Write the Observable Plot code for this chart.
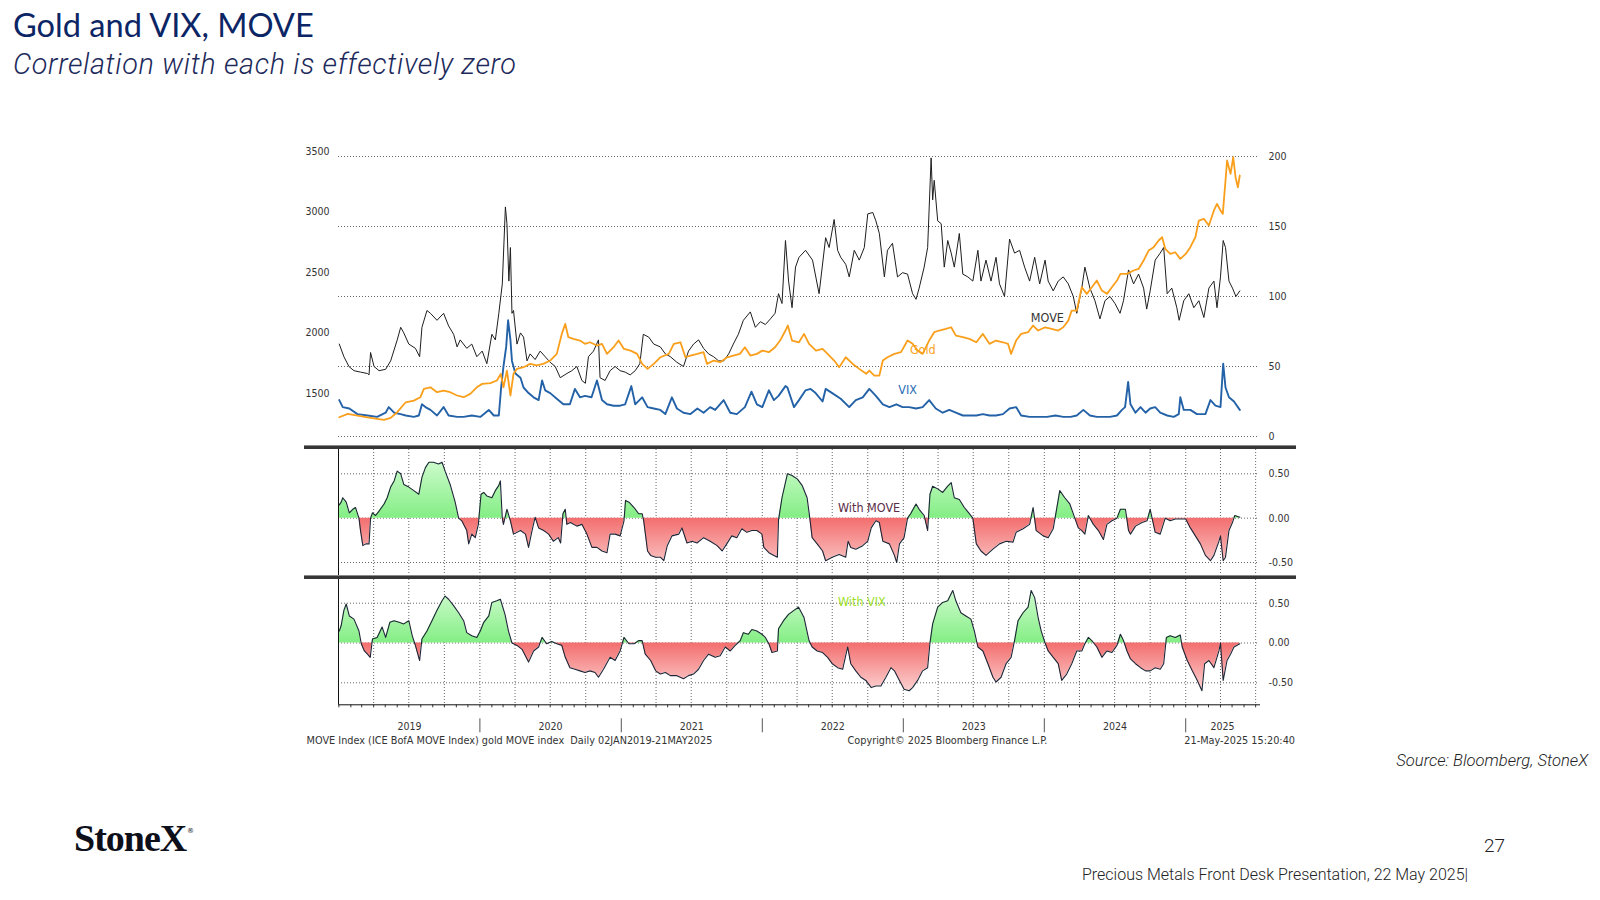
<!DOCTYPE html>
<html><head><meta charset="utf-8">
<script src="https://cdn.jsdelivr.net/npm/d3@7"></script>
<script src="https://cdn.jsdelivr.net/npm/@observablehq/plot@0.6"></script>
<style>
html,body{margin:0;padding:0;background:#fff;}
#page{position:relative;width:1600px;height:900px;overflow:hidden;background:#fff;}
#page > .plot{position:absolute;left:0;}
.sep{position:absolute;left:304px;width:992px;height:4px;background:#363636;border-top:1px solid #8a8a8a;box-sizing:border-box;}
#overlay{position:absolute;left:0;top:0;}
</style></head>
<body><div id="page">
<svg id="overlay" width="1600" height="900">
  <text x="13" y="37.3" font-family="Lato, 'Open Sans', sans-serif" font-size="32.6" fill="#0b2565">Gold and VIX, MOVE</text>
  <text x="13" y="74" font-family="Roboto, sans-serif" font-style="italic" font-weight="300" font-size="28.8" letter-spacing="0.65" fill="#1d2a5b">Correlation with each is effectively zero</text>
  <text x="306.6" y="744" font-family="'DejaVu Sans Condensed','DejaVu Sans',sans-serif" font-size="10.8" fill="#333" style="white-space:pre">MOVE Index (ICE BofA MOVE Index) gold MOVE index  Daily 02JAN2019-21MAY2025</text>
  <text x="847.5" y="744" font-family="'DejaVu Sans Condensed','DejaVu Sans',sans-serif" font-size="10.8" fill="#333">Copyright© 2025 Bloomberg Finance L.P.</text>
  <text x="1295" y="744" text-anchor="end" font-family="'DejaVu Sans Condensed','DejaVu Sans',sans-serif" font-size="10.8" fill="#333">21-May-2025 15:20:40</text>
  <text x="1588" y="765.5" text-anchor="end" font-family="Roboto, sans-serif" font-style="italic" font-weight="300" font-size="16.6" fill="#222">Source: Bloomberg, StoneX</text>
  <text x="74" y="850.7" font-family="'Liberation Serif', serif" font-weight="bold" font-size="38" fill="#0d0f1a" letter-spacing="-1">StoneX</text>
  <text x="187" y="833" font-family="'DejaVu Sans', sans-serif" font-size="7" fill="#0d0f1a">®</text>
  <text x="1484" y="852" font-family="Roboto, sans-serif" font-weight="300" font-size="19" fill="#222">27</text>
  <text x="1082" y="880" font-family="Roboto, sans-serif" font-weight="300" font-size="16" fill="#222">Precious Metals Front Desk Presentation, 22 May 2025|</text>
</svg>
<div class="sep" style="top:445px"></div>
<div class="sep" style="top:575px"></div>
</div>
<script>
// ---------------- DATA ----------------
const goldTicks = [1500, 2000, 2500, 3000, 3500];
const rightTicks = [0, 50, 100, 150, 200];
const corrTicks = [-0.5, 0, 0.5];

const move = [
["2019-01-02",66],["2019-01-14",57],["2019-01-27",50],["2019-02-09",47],["2019-02-26",46],["2019-03-16",45],["2019-03-20",44],["2019-03-24",60],["2019-04-02",50],["2019-04-15",47],["2019-05-02",48],["2019-05-15",54],["2019-06-01",69],["2019-06-10",78],["2019-06-18",74],["2019-07-01",66],["2019-07-18",63],["2019-07-29",57],["2019-08-04",78],["2019-08-17",90],["2019-08-26",88],["2019-09-12",83],["2019-09-29",88],["2019-10-12",79],["2019-10-25",73],["2019-11-03",64],["2019-11-11",69],["2019-11-28",63],["2019-12-11",66],["2019-12-24",57],
["2020-01-07",61],["2020-01-19",52],["2020-02-01",73],["2020-02-10",69],["2020-02-19",88],["2020-02-28",109],["2020-03-07",164],["2020-03-11",152],["2020-03-16",111],["2020-03-20",135],["2020-03-24",88],["2020-03-28",90],["2020-04-06",66],["2020-04-15",74],["2020-04-23",71],["2020-05-02",54],["2020-05-10",59],["2020-05-23",55],["2020-06-05",61],["2020-06-18",57],["2020-07-01",53],["2020-07-14",50],["2020-07-27",42],["2020-08-13",45],["2020-08-26",47],["2020-09-08",50],["2020-09-21",40],["2020-09-30",38],["2020-10-08",57],["2020-10-21",61],["2020-11-03",69],["2020-11-07",42],["2020-11-20",40],["2020-12-03",47],["2020-12-16",50],["2020-12-29",47],
["2021-01-11",46],["2021-01-24",44],["2021-02-06",47],["2021-02-18",52],["2021-02-27",73],["2021-03-13",71],["2021-03-26",66],["2021-04-12",64],["2021-04-25",59],["2021-05-08",57],["2021-05-25",53],["2021-06-11",50],["2021-06-24",61],["2021-07-07",66],["2021-07-20",69],["2021-08-02",63],["2021-08-15",59],["2021-08-28",57],["2021-09-10",54],["2021-09-23",54],["2021-10-06",59],["2021-10-18",66],["2021-10-31",73],["2021-11-13",83],["2021-12-01",89],["2021-12-14",78],["2021-12-27",82],
["2022-01-09",80],["2022-01-22",84],["2022-02-03",88],["2022-02-12",102],["2022-02-21",95],["2022-03-02",140],["2022-03-10",111],["2022-03-19",92],["2022-03-28",121],["2022-04-06",128],["2022-04-23",133],["2022-05-11",126],["2022-05-28",102],["2022-06-14",142],["2022-06-23",135],["2022-07-06",155],["2022-07-15",133],["2022-07-23",128],["2022-08-05",123],["2022-08-14",114],["2022-08-27",133],["2022-09-09",126],["2022-09-22",135],["2022-10-01",159],["2022-10-14",160],["2022-10-22",154],["2022-10-31",145],["2022-11-13",114],["2022-11-21",133],["2022-12-04",138],["2022-12-17",114],["2022-12-30",117],
["2023-01-12",116],["2023-01-25",102],["2023-02-03",98],["2023-02-11",106],["2023-02-24",121],["2023-03-05",135],["2023-03-14",199],["2023-03-18",169],["2023-03-22",183],["2023-03-31",154],["2023-04-09",152],["2023-04-17",121],["2023-04-26",140],["2023-05-05",131],["2023-05-13",121],["2023-05-26",145],["2023-06-04",116],["2023-06-17",114],["2023-06-30",111],["2023-07-13",133],["2023-07-21",111],["2023-08-03",126],["2023-08-16",111],["2023-08-29",128],["2023-09-07",109],["2023-09-20",100],["2023-10-03",141],["2023-10-16",131],["2023-10-29",133],["2023-11-11",121],["2023-11-24",111],["2023-12-07",128],["2023-12-20",109],
["2024-01-03",126],["2024-01-11",111],["2024-01-24",104],["2024-02-06",111],["2024-02-19",114],["2024-03-03",109],["2024-03-16",100],["2024-03-25",88],["2024-04-07",106],["2024-04-15",121],["2024-04-28",106],["2024-05-11",97],["2024-05-24",84],["2024-06-06",97],["2024-06-19",100],["2024-07-02",95],["2024-07-15",88],["2024-07-24",97],["2024-08-06",119],["2024-08-19",109],["2024-09-01",116],["2024-09-14",106],["2024-09-22",91],["2024-10-01",104],["2024-10-14",126],["2024-10-27",131],["2024-11-05",135],["2024-11-14",102],["2024-11-26",106],["2024-12-09",92],["2024-12-15",83],["2024-12-27",97],
["2025-01-09",102],["2025-01-22",92],["2025-02-04",97],["2025-02-17",85],["2025-03-02",106],["2025-03-15",111],["2025-03-23",92],["2025-04-01",114],["2025-04-08",140],["2025-04-14",135],["2025-04-23",111],["2025-05-02",106],["2025-05-11",100],["2025-05-21",104]
];

const gold = [
["2019-01-02",1301],["2019-01-24",1329],["2019-02-18",1315],["2019-03-16",1301],["2019-04-10",1288],["2019-04-28",1279],["2019-05-15",1296],["2019-06-01",1343],["2019-06-23",1425],["2019-07-14",1439],["2019-07-31",1467],["2019-08-09",1536],["2019-08-26",1549],["2019-09-12",1508],["2019-09-29",1522],["2019-10-16",1508],["2019-11-03",1481],["2019-11-20",1467],["2019-12-07",1494],["2019-12-24",1549],
["2020-01-07",1577],["2020-01-28",1583],["2020-02-14",1605],["2020-02-24",1660],["2020-03-02",1549],["2020-03-11",1687],["2020-03-20",1481],["2020-03-28",1660],["2020-04-06",1701],["2020-04-23",1715],["2020-05-10",1742],["2020-05-27",1729],["2020-06-13",1742],["2020-07-01",1770],["2020-07-18",1825],["2020-07-31",1990],["2020-08-09",2073],["2020-08-17",1963],["2020-08-30",1949],["2020-09-16",1935],["2020-09-29",1908],["2020-10-12",1921],["2020-10-30",1894],["2020-11-12",1908],["2020-11-25",1825],["2020-12-12",1880],["2020-12-25",1935],
["2021-01-08",1866],["2021-01-25",1852],["2021-02-11",1825],["2021-02-24",1742],["2021-03-10",1701],["2021-03-26",1742],["2021-04-12",1797],["2021-05-04",1825],["2021-05-17",1908],["2021-06-03",1921],["2021-06-16",1797],["2021-06-29",1811],["2021-07-17",1825],["2021-08-02",1839],["2021-08-11",1742],["2021-08-28",1770],["2021-09-14",1756],["2021-10-02",1797],["2021-10-18",1811],["2021-11-04",1825],["2021-11-17",1880],["2021-12-01",1811],["2021-12-18",1825],
["2022-01-01",1852],["2022-01-18",1839],["2022-02-03",1880],["2022-02-16",1935],["2022-03-02",2018],["2022-03-08",2059],["2022-03-19",1935],["2022-04-06",1921],["2022-04-19",1990],["2022-05-02",1908],["2022-05-20",1852],["2022-06-06",1866],["2022-06-19",1825],["2022-07-06",1770],["2022-07-19",1715],["2022-08-05",1797],["2022-08-23",1742],["2022-09-09",1701],["2022-09-27",1660],["2022-10-05",1687],["2022-10-18",1646],["2022-10-31",1646],["2022-11-09",1770],["2022-11-21",1797],["2022-12-09",1825],["2022-12-26",1839],
["2023-01-12",1935],["2023-01-25",1908],["2023-02-07",1852],["2023-02-20",1825],["2023-03-09",1935],["2023-03-22",2004],["2023-04-04",2018],["2023-04-21",2032],["2023-05-05",2045],["2023-05-17",1976],["2023-06-04",1963],["2023-06-21",1949],["2023-07-09",1921],["2023-07-26",1990],["2023-08-12",1908],["2023-08-29",1935],["2023-09-16",1921],["2023-09-29",1908],["2023-10-07",1825],["2023-10-20",1935],["2023-11-02",1990],["2023-11-20",2004],["2023-12-03",2059],["2023-12-16",2018],
["2024-01-03",2045],["2024-01-20",2032],["2024-02-06",2018],["2024-02-19",2045],["2024-03-03",2100],["2024-03-12",2183],["2024-03-25",2183],["2024-04-07",2376],["2024-04-20",2321],["2024-05-03",2376],["2024-05-16",2431],["2024-05-29",2348],["2024-06-11",2321],["2024-06-24",2376],["2024-07-07",2431],["2024-07-16",2486],["2024-08-02",2486],["2024-08-19",2514],["2024-09-01",2527],["2024-09-14",2596],["2024-09-27",2679],["2024-10-10",2707],["2024-10-23",2762],["2024-11-01",2789],["2024-11-09",2693],["2024-11-22",2651],["2024-12-05",2665],["2024-12-18",2610],
["2025-01-01",2651],["2025-01-13",2707],["2025-01-26",2789],["2025-02-04",2927],["2025-02-17",2941],["2025-03-02",2886],["2025-03-15",3010],["2025-03-23",3065],["2025-04-01",3010],["2025-04-07",2982],["2025-04-14",3258],["2025-04-18",3423],["2025-04-27",3313],["2025-05-04",3450],["2025-05-10",3285],["2025-05-16",3202],["2025-05-21",3299]
];

const vix = [
["2019-01-02",26],["2019-01-11",21],["2019-01-28",20],["2019-02-18",16],["2019-03-16",15],["2019-04-10",14],["2019-05-02",17],["2019-05-10",21],["2019-05-24",17],["2019-06-10",16],["2019-06-23",15],["2019-07-14",14],["2019-07-27",15],["2019-08-04",23],["2019-08-13",21],["2019-08-26",19],["2019-09-12",15],["2019-09-29",21],["2019-10-12",15],["2019-11-03",14],["2019-11-20",14],["2019-12-11",15],
["2020-01-02",14],["2020-01-24",19],["2020-02-06",15],["2020-02-19",15],["2020-02-25",35],["2020-03-02",50],["2020-03-09",64],["2020-03-14",83],["2020-03-20",69],["2020-03-24",54],["2020-04-02",45],["2020-04-15",42],["2020-04-23",35],["2020-05-06",31],["2020-05-19",28],["2020-06-01",26],["2020-06-10",40],["2020-06-18",33],["2020-07-01",31],["2020-07-18",27],["2020-08-04",23],["2020-08-21",23],["2020-09-03",34],["2020-09-16",28],["2020-09-29",29],["2020-10-16",28],["2020-10-30",40],["2020-11-12",26],["2020-11-25",23],["2020-12-12",22],["2020-12-29",22],
["2021-01-11",23],["2021-01-27",36],["2021-02-06",23],["2021-02-24",28],["2021-03-10",21],["2021-03-26",20],["2021-04-12",19],["2021-04-25",16],["2021-05-12",28],["2021-05-25",20],["2021-06-11",17],["2021-06-29",16],["2021-07-17",20],["2021-08-02",17],["2021-08-19",21],["2021-09-01",19],["2021-09-23",26],["2021-10-10",17],["2021-10-27",16],["2021-11-17",21],["2021-12-04",32],["2021-12-18",23],
["2022-01-01",21],["2022-01-18",33],["2022-01-31",26],["2022-02-12",29],["2022-03-02",36],["2022-03-07",35],["2022-03-24",21],["2022-04-06",26],["2022-04-23",33],["2022-05-06",34],["2022-05-19",31],["2022-06-06",25],["2022-06-14",34],["2022-07-01",31],["2022-07-23",27],["2022-08-14",21],["2022-08-31",26],["2022-09-18",28],["2022-10-05",34],["2022-10-22",29],["2022-11-09",23],["2022-11-26",21],["2022-12-14",23],["2022-12-30",21],
["2023-01-16",21],["2023-02-03",20],["2023-02-20",21],["2023-03-09",26],["2023-03-26",20],["2023-04-13",17],["2023-04-30",19],["2023-05-17",17],["2023-06-04",15],["2023-06-21",15],["2023-07-09",15],["2023-07-26",16],["2023-08-12",15],["2023-08-29",15],["2023-09-16",16],["2023-10-03",20],["2023-10-20",21],["2023-11-02",15],["2023-11-24",14],["2023-12-16",14],
["2024-01-08",14],["2024-01-30",15],["2024-02-19",14],["2024-03-09",14],["2024-03-25",15],["2024-04-11",19],["2024-04-28",15],["2024-05-16",14],["2024-06-02",14],["2024-06-19",14],["2024-07-07",15],["2024-07-20",19],["2024-07-28",21],["2024-08-05",39],["2024-08-11",23],["2024-08-24",17],["2024-09-06",21],["2024-09-19",17],["2024-10-01",20],["2024-10-14",21],["2024-10-27",17],["2024-11-14",15],["2024-12-01",14],["2024-12-14",16],["2024-12-18",28],["2024-12-27",19],
["2025-01-13",19],["2025-01-30",16],["2025-02-12",16],["2025-02-21",16],["2025-03-06",26],["2025-03-19",22],["2025-04-01",21],["2025-04-08",52],["2025-04-14",35],["2025-04-23",28],["2025-05-06",25],["2025-05-21",19]
];

const corrMove = [
["2019-01-02",0.15],["2019-01-07",0.18],["2019-01-11",0.23],["2019-01-20",0.18],["2019-01-28",0.06],["2019-02-06",0.10],["2019-02-13",0.12],["2019-02-22",0.0],["2019-02-26",-0.14],["2019-03-04",-0.31],["2019-03-12",-0.29],["2019-03-20",-0.29],["2019-03-24",0.0],["2019-03-29",0.06],["2019-04-06",0.03],["2019-04-15",0.08],["2019-04-28",0.16],["2019-05-06",0.23],["2019-05-15",0.35],["2019-05-24",0.42],["2019-06-01",0.53],["2019-06-10",0.50],["2019-06-18",0.38],["2019-07-01",0.35],["2019-07-14",0.31],["2019-07-27",0.27],["2019-08-04",0.46],["2019-08-13",0.57],["2019-08-22",0.63],["2019-09-03",0.63],["2019-09-16",0.61],["2019-09-25",0.63],["2019-10-03",0.53],["2019-10-16",0.38],["2019-10-29",0.18],["2019-11-07",0.0],["2019-11-15",-0.03],["2019-11-28",-0.14],["2019-12-03",-0.29],["2019-12-11",-0.18],["2019-12-20",-0.22],["2019-12-28",-0.07],
["2020-01-04",0.27],["2020-01-11",0.29],["2020-01-19",0.25],["2020-02-01",0.23],["2020-02-10",0.31],["2020-02-19",0.37],["2020-02-23",0.42],["2020-02-28",0.0],["2020-03-02",-0.07],["2020-03-11",0.10],["2020-03-20",-0.03],["2020-03-28",-0.18],["2020-04-15",-0.14],["2020-04-28",-0.18],["2020-05-06",-0.33],["2020-05-15",-0.14],["2020-05-23",0.01],["2020-06-01",-0.11],["2020-06-14",-0.14],["2020-06-27",-0.18],["2020-07-09",-0.26],["2020-07-22",-0.22],["2020-07-28",-0.28],["2020-08-03",0.05],["2020-08-09",0.10],["2020-08-13",-0.07],["2020-08-22",-0.05],["2020-09-08",-0.09],["2020-09-21",-0.07],["2020-10-04",-0.18],["2020-10-17",-0.33],["2020-10-30",-0.33],["2020-11-12",-0.37],["2020-11-25",-0.39],["2020-12-03",-0.18],["2020-12-16",-0.18],["2020-12-29",-0.20],
["2021-01-08",-0.03],["2021-01-12",0.20],["2021-01-21",0.18],["2021-02-03",0.12],["2021-02-15",0.05],["2021-02-24",0.05],["2021-02-28",-0.03],["2021-03-10",-0.37],["2021-03-18",-0.42],["2021-03-31",-0.44],["2021-04-12",-0.44],["2021-04-21",-0.48],["2021-04-30",-0.31],["2021-05-12",-0.20],["2021-05-30",-0.18],["2021-06-07",-0.11],["2021-06-20",-0.28],["2021-07-03",-0.26],["2021-07-16",-0.28],["2021-08-02",-0.22],["2021-08-19",-0.26],["2021-09-06",-0.31],["2021-09-19",-0.37],["2021-10-01",-0.29],["2021-10-14",-0.20],["2021-10-27",-0.22],["2021-11-09",-0.12],["2021-11-22",-0.16],["2021-12-05",-0.14],["2021-12-18",-0.14],["2021-12-31",-0.18],
["2022-01-05",-0.33],["2022-01-18",-0.39],["2022-01-31",-0.42],["2022-02-09",-0.44],["2022-02-12",-0.02],["2022-02-21",0.23],["2022-03-07",0.50],["2022-03-19",0.48],["2022-04-02",0.44],["2022-04-14",0.37],["2022-04-27",0.23],["2022-05-04",0.0],["2022-05-10",-0.22],["2022-05-23",-0.29],["2022-06-06",-0.37],["2022-06-14",-0.48],["2022-07-01",-0.44],["2022-07-19",-0.41],["2022-08-05",-0.44],["2022-08-11",-0.26],["2022-08-18",-0.33],["2022-08-31",-0.35],["2022-09-18",-0.31],["2022-10-01",-0.26],["2022-10-10",-0.11],["2022-10-22",-0.03],["2022-10-31",-0.05],["2022-11-09",-0.26],["2022-11-26",-0.29],["2022-12-09",-0.42],["2022-12-15",-0.50],["2022-12-22",-0.29],
["2023-01-03",-0.22],["2023-01-12",0.0],["2023-01-20",0.05],["2023-02-03",0.16],["2023-02-11",0.10],["2023-02-24",0.03],["2023-03-05",-0.14],["2023-03-11",0.27],["2023-03-18",0.36],["2023-03-31",0.33],["2023-04-13",0.29],["2023-04-26",0.36],["2023-05-05",0.40],["2023-05-13",0.23],["2023-05-26",0.21],["2023-06-08",0.12],["2023-06-21",0.05],["2023-06-30",0.0],["2023-07-09",-0.29],["2023-07-21",-0.37],["2023-08-03",-0.42],["2023-08-21",-0.35],["2023-09-07",-0.29],["2023-09-24",-0.26],["2023-10-12",-0.27],["2023-10-20",-0.16],["2023-11-07",-0.12],["2023-11-24",-0.07],["2023-12-03",0.12],["2023-12-11",-0.14],["2023-12-29",-0.20],
["2024-01-11",-0.22],["2024-01-24",-0.12],["2024-02-01",0.08],["2024-02-10",0.31],["2024-02-23",0.23],["2024-03-07",0.16],["2024-03-20",0.0],["2024-03-29",-0.11],["2024-04-07",-0.14],["2024-04-15",-0.18],["2024-04-24",0.03],["2024-05-07",-0.07],["2024-05-20",-0.14],["2024-06-02",-0.24],["2024-06-11",-0.07],["2024-06-24",-0.03],["2024-07-07",0.0],["2024-07-16",0.10],["2024-07-29",0.10],["2024-08-06",-0.14],["2024-08-11",-0.18],["2024-08-24",-0.09],["2024-09-10",-0.05],["2024-09-23",-0.03],["2024-10-01",0.10],["2024-10-06",0.0],["2024-10-14",-0.16],["2024-10-27",-0.18],["2024-11-09",0.0],["2024-11-22",-0.03],["2024-12-05",-0.01],["2024-12-18",-0.01],
["2025-01-01",-0.01],["2025-01-13",-0.11],["2025-01-26",-0.20],["2025-02-08",-0.29],["2025-02-21",-0.42],["2025-03-06",-0.48],["2025-03-15",-0.42],["2025-03-28",-0.26],["2025-04-01",-0.20],["2025-04-08",-0.48],["2025-04-14",-0.44],["2025-04-23",-0.14],["2025-05-02",-0.05],["2025-05-08",0.03],["2025-05-21",0.01]
];

const corrVix = [
["2019-01-02",0.15],["2019-01-07",0.22],["2019-01-14",0.41],["2019-01-20",0.49],["2019-01-28",0.34],["2019-02-09",0.30],["2019-02-22",0.15],["2019-02-28",-0.01],["2019-03-08",-0.10],["2019-03-16",-0.14],["2019-03-23",-0.18],["2019-03-29",0.05],["2019-04-10",0.07],["2019-04-23",0.20],["2019-05-02",0.07],["2019-05-13",0.26],["2019-05-24",0.28],["2019-06-06",0.26],["2019-06-18",0.24],["2019-07-01",0.28],["2019-07-10",0.09],["2019-07-18",-0.03],["2019-07-29",-0.22],["2019-08-04",0.05],["2019-08-17",0.15],["2019-08-30",0.28],["2019-09-12",0.41],["2019-09-25",0.53],["2019-10-03",0.59],["2019-10-12",0.55],["2019-10-25",0.47],["2019-11-07",0.38],["2019-11-20",0.28],["2019-11-28",0.13],["2019-12-11",0.09],["2019-12-24",0.07],
["2020-01-02",0.15],["2020-01-11",0.26],["2020-01-24",0.34],["2020-02-01",0.51],["2020-02-14",0.53],["2020-02-23",0.55],["2020-03-06",0.36],["2020-03-15",0.15],["2020-03-24",0.0],["2020-04-06",-0.03],["2020-04-19",-0.08],["2020-05-06",-0.24],["2020-05-19",-0.10],["2020-06-01",-0.05],["2020-06-10",0.07],["2020-06-22",-0.01],["2020-07-05",0.02],["2020-07-18",-0.01],["2020-07-31",-0.03],["2020-08-09",-0.18],["2020-08-21",-0.31],["2020-09-03",-0.33],["2020-09-16",-0.35],["2020-09-29",-0.37],["2020-10-12",-0.35],["2020-10-25",-0.37],["2020-11-03",-0.43],["2020-11-16",-0.33],["2020-12-03",-0.18],["2020-12-16",-0.22],["2020-12-29",-0.10],
["2021-01-08",0.07],["2021-01-21",-0.01],["2021-02-03",-0.01],["2021-02-15",0.03],["2021-02-24",0.03],["2021-03-04",-0.14],["2021-03-18",-0.22],["2021-03-31",-0.35],["2021-04-12",-0.39],["2021-04-25",-0.37],["2021-05-08",-0.41],["2021-05-25",-0.41],["2021-06-11",-0.45],["2021-06-24",-0.41],["2021-07-07",-0.39],["2021-07-20",-0.33],["2021-08-02",-0.22],["2021-08-15",-0.14],["2021-09-01",-0.18],["2021-09-14",-0.16],["2021-09-27",-0.05],["2021-10-10",-0.10],["2021-10-23",-0.03],["2021-11-05",0.03],["2021-11-13",0.13],["2021-11-26",0.11],["2021-12-05",0.17],["2021-12-18",0.15],["2021-12-31",0.11],
["2022-01-09",0.07],["2022-01-18",-0.01],["2022-01-26",-0.12],["2022-02-09",-0.10],["2022-02-12",0.18],["2022-02-25",0.28],["2022-03-10",0.36],["2022-03-24",0.41],["2022-04-05",0.45],["2022-04-19",0.32],["2022-05-02",0.03],["2022-05-10",-0.05],["2022-05-23",-0.10],["2022-06-06",-0.12],["2022-06-19",-0.18],["2022-07-01",-0.26],["2022-07-15",-0.31],["2022-07-28",-0.33],["2022-08-10",-0.05],["2022-08-18",-0.26],["2022-08-31",-0.35],["2022-09-13",-0.43],["2022-09-26",-0.47],["2022-10-10",-0.56],["2022-10-22",-0.54],["2022-11-04",-0.54],["2022-11-17",-0.43],["2022-11-30",-0.31],["2022-12-09",-0.35],["2022-12-22",-0.47],
["2023-01-03",-0.58],["2023-01-16",-0.60],["2023-01-25",-0.56],["2023-02-07",-0.47],["2023-02-20",-0.35],["2023-03-05",-0.31],["2023-03-11",0.0],["2023-03-18",0.24],["2023-03-31",0.45],["2023-04-13",0.51],["2023-04-26",0.53],["2023-05-09",0.66],["2023-05-17",0.53],["2023-05-30",0.38],["2023-06-12",0.34],["2023-06-25",0.30],["2023-07-04",0.15],["2023-07-13",-0.05],["2023-07-26",-0.10],["2023-08-08",-0.26],["2023-08-21",-0.43],["2023-08-29",-0.49],["2023-09-11",-0.43],["2023-09-24",-0.26],["2023-10-07",-0.18],["2023-10-16",0.03],["2023-10-25",0.28],["2023-11-07",0.38],["2023-11-20",0.45],["2023-11-28",0.66],["2023-12-07",0.57],["2023-12-16",0.32],["2023-12-24",0.15],
["2024-01-03",0.0],["2024-01-11",-0.10],["2024-01-24",-0.18],["2024-02-06",-0.26],["2024-02-15",-0.47],["2024-02-28",-0.39],["2024-03-12",-0.26],["2024-03-25",-0.10],["2024-04-07",-0.10],["2024-04-15",-0.01],["2024-04-24",0.07],["2024-05-03",0.03],["2024-05-16",-0.05],["2024-05-29",-0.18],["2024-06-11",-0.10],["2024-06-24",-0.12],["2024-07-07",-0.03],["2024-07-16",0.11],["2024-07-24",0.03],["2024-08-02",-0.10],["2024-08-11",-0.20],["2024-08-24",-0.26],["2024-09-06",-0.31],["2024-09-19",-0.35],["2024-10-01",-0.35],["2024-10-14",-0.31],["2024-10-27",-0.33],["2024-11-05",-0.26],["2024-11-12",0.07],["2024-11-22",0.09],["2024-12-05",0.07],["2024-12-18",0.10],["2024-12-23",-0.05],
["2025-01-05",-0.22],["2025-01-18",-0.35],["2025-01-31",-0.47],["2025-02-12",-0.60],["2025-02-19",-0.26],["2025-03-02",-0.22],["2025-03-15",-0.31],["2025-03-28",-0.10],["2025-04-01",0.0],["2025-04-08",-0.47],["2025-04-18",-0.22],["2025-04-27",-0.14],["2025-05-06",-0.05],["2025-05-21",-0.01]
];

const seriesLabels = [
  {text: "MOVE", date: "2023-11-27", v: 85, color: "#333333"},
  {text: "Gold", date: "2023-01-18", v: 62, color: "#f9a31b"},
  {text: "VIX", date: "2022-12-19", v: 33, color: "#2a6db5"}
];
const panelLabels = {move: {text: "With MOVE", date: "2022-07-16", v: 0.11, color: "#5a2c48"},
                     vix: {text: "With VIX", date: "2022-07-16", v: 0.52, color: "#9bdf2a"}};

// ---------------- HELPERS ----------------
const parse = d3.utcParse("%Y-%m-%d");
const rows = arr => arr.map(([d, v]) => ({date: parse(d), v}));
const xDomain = [parse("2018-12-31"), parse("2025-07-11")];
const xRange = [338, 1259];
const axisFont = '"DejaVu Sans Condensed","DejaVu Sans",sans-serif';

// gold (left axis) mapped onto the right-axis scale used by MOVE/VIX
const g2r = g => (285.3 - (3500 - g) * 0.121) / 1.4;
const r2g = r => 3500 - (285.3 - 1.4 * r) / 0.121;

function splitZero(arr) {
  const src = rows(arr), out = [];
  for (let i = 0; i < src.length; i++) {
    if (i > 0) {
      const a = src[i - 1], b = src[i];
      if ((a.v < 0 && b.v > 0) || (a.v > 0 && b.v < 0)) {
        const t = a.v / (a.v - b.v);
        out.push({date: new Date(+a.date + t * (b.date - a.date)), v: 0});
      }
    }
    out.push(src[i]);
  }
  return out;
}

function gradientDefs(idG, idR) {
  return (index, scales) => {
    const ns = "http://www.w3.org/2000/svg";
    const defs = document.createElementNS(ns, "defs");
    const y0 = scales.y(0), yTop = scales.y(0.7), yBot = scales.y(-0.7);
    defs.innerHTML =
      `<linearGradient id="${idG}" gradientUnits="userSpaceOnUse" x1="0" x2="0" y1="${y0}" y2="${yTop}">
         <stop offset="0" stop-color="#84ee84"/><stop offset="1" stop-color="#d4fcd4"/></linearGradient>
       <linearGradient id="${idR}" gradientUnits="userSpaceOnUse" x1="0" x2="0" y1="${y0}" y2="${yBot}">
         <stop offset="0" stop-color="#f36e6e"/><stop offset="1" stop-color="#fde0e0"/></linearGradient>`;
    return defs;
  };
}

const quarters = d3.utcMonth.range(parse("2019-02-01"), parse("2025-07-12")).filter(d => d.getUTCMonth() % 3 === 0);
const months = d3.utcMonth.range(parse("2019-01-01"), parse("2025-07-12"));
const yearStarts = d3.utcYear.range(parse("2020-01-01"), parse("2025-01-02"));
const yearMids = d3.range(2019, 2026).map(y => {
  const a = Math.max(+Date.UTC(y, 0, 1), +xDomain[0]), b = Math.min(+Date.UTC(y + 1, 0, 1), +xDomain[1]);
  return new Date((a + b) / 2);
});

const page = document.getElementById("page");
function place(svg, top) {
  const wrap = document.createElement("div");
  wrap.className = "plot";
  wrap.style.top = top + "px";
  wrap.appendChild(svg);
  page.appendChild(wrap);
}

// ---------------- TOP PANEL ----------------
const topPlot = Plot.plot({
  width: 1600, height: 306,
  marginLeft: 338, marginRight: 341, marginTop: 0, marginBottom: 0,
  style: {background: "transparent", fontFamily: axisFont, color: "#333", overflow: "visible"},
  x: {type: "utc", domain: xDomain, range: xRange, axis: null},
  y: {domain: [0, 200], range: [296, 16]},
  marks: [
    Plot.gridY(rightTicks, {stroke: "#666", strokeOpacity: 1, strokeDasharray: "1,2"}),
    Plot.axisY(rightTicks, {anchor: "right", tickSize: 0, tickPadding: 9, fontSize: 10.5, label: null}),
    Plot.axisY(goldTicks.map(g2r), {anchor: "left", tickSize: 0, tickPadding: 9, fontSize: 10.5, label: null,
      tickFormat: d => String(Math.round(r2g(d)))}),
    Plot.text(seriesLabels, {x: d => parse(d.date), y: "v", text: "text", fill: "color",
      textAnchor: "start", fontSize: 12.5, fontFamily: axisFont}),
    Plot.line(rows(vix), {x: "date", y: "v", stroke: "#2462a8", strokeWidth: 1.9}),
    Plot.line(rows(move), {x: "date", y: "v", stroke: "#1e1e1e", strokeWidth: 1}),
    Plot.line(rows(gold), {x: "date", y: d => g2r(d.v), stroke: "#f99f1b", strokeWidth: 1.8})
  ]
});
place(topPlot, 140);

// ---------------- CORRELATION PANELS ----------------
function corrPanel(data, label, ids, height, yRange, marginBottom, withAxis) {
  const d = splitZero(data);
  const marks = [
    gradientDefs(ids[0], ids[1]),
    Plot.gridX(quarters, {stroke: "#666", strokeOpacity: 1, strokeDasharray: "1,2"}),
    Plot.gridY(corrTicks, {stroke: "#666", strokeOpacity: 1, strokeDasharray: "1,2"}),
    Plot.areaY(d, {x: "date", y1: () => 0, y2: r => Math.max(0, r.v), fill: `url(#${ids[0]})`}),
    Plot.areaY(d, {x: "date", y1: () => 0, y2: r => Math.min(0, r.v), fill: `url(#${ids[1]})`}),
    Plot.line(d, {x: "date", y: "v", stroke: "#1d2536", strokeWidth: 1.1}),
    Plot.text([label], {x: l => parse(l.date), y: "v", text: "text", fill: "color",
      textAnchor: "start", fontSize: 12.5, fontFamily: axisFont}),
    Plot.axisY(corrTicks, {anchor: "right", tickSize: 0, tickPadding: 9, fontSize: 10.5, label: null,
      tickFormat: v => v.toFixed(2)}),
    Plot.ruleX([xDomain[0]], {stroke: "#111", strokeWidth: 1})
  ];
  if (withAxis) {
    marks.push(
      Plot.frame({anchor: "bottom", stroke: "#111"}),
      Plot.axisX(months, {tickSize: 3, tickFormat: () => "", stroke: "#333", label: null}),
      Plot.axisX(yearMids, {tickSize: 0, tickPadding: 18, fontSize: 10.5, label: null,
        tickFormat: t => String(t.getUTCFullYear())}),
      Plot.axisX(yearStarts, {tickSize: 14, dy: 14, stroke: "#555", tickFormat: () => "", label: null})
    );
  }
  return Plot.plot({
    width: 1600, height,
    marginLeft: 338, marginRight: 341, marginTop: 0, marginBottom,
    style: {background: "transparent", fontFamily: axisFont, color: "#333", overflow: "visible"},
    x: {type: "utc", domain: xDomain, range: xRange, axis: null},
    y: {domain: [-0.5, 0.5], range: yRange},
    marks
  });
}

place(corrPanel(corrMove, panelLabels.move, ["gMoveG", "gMoveR"], 126, [113, 24.3], 0, false), 449);
place(corrPanel(corrVix, panelLabels.vix, ["gVixG", "gVixR"], 165, [103.3, 23.7], 39.7, true), 579);
</script>
</body></html>
